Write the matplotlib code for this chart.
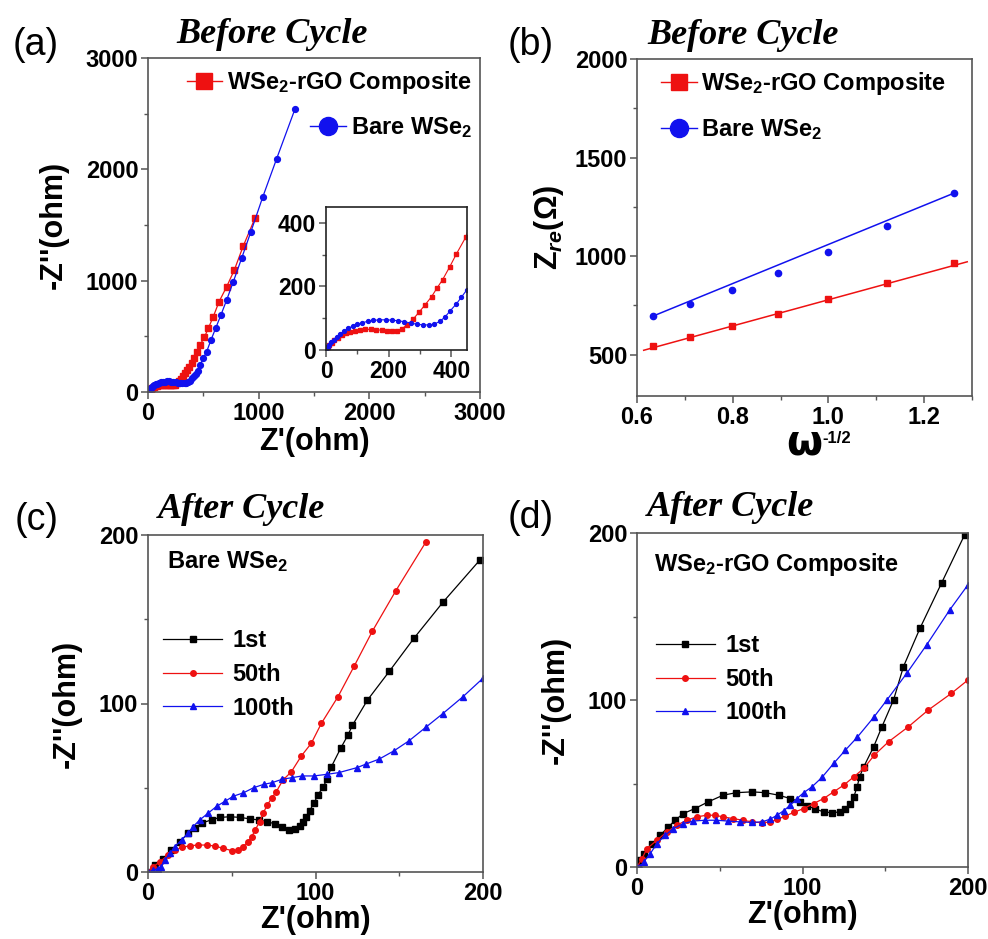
import numpy as np
import matplotlib
matplotlib.use('Agg')
import matplotlib.pyplot as plt
from matplotlib.lines import Line2D
from matplotlib.ticker import MultipleLocator

plt.rcParams['font.family'] = ['Liberation Sans', 'DejaVu Sans']
plt.rcParams['font.weight'] = 'bold'
plt.rcParams['axes.labelweight'] = 'bold'
plt.rcParams['mathtext.fontset'] = 'custom'
plt.rcParams['mathtext.rm'] = 'Liberation Sans:bold'
plt.rcParams['mathtext.it'] = 'Liberation Sans:italic:bold'
plt.rcParams['mathtext.bf'] = 'Liberation Sans:bold'

RED = '#ee1111'
BLUE = '#1111ee'
SPINE = '#555555'

# (a) Nyquist plots before cycling
comp_zre = [0, 5, 10, 18, 27, 38, 50, 63, 77, 92, 108, 125, 143, 160, 178, 195, 212, 228,
            241, 259, 278, 297, 317, 337, 355, 372, 395, 416, 446, 470, 509, 545, 590,
            642, 711, 780, 861, 967]
comp_zim = [0, 8, 15, 23, 31, 39, 46, 52, 57, 61, 63, 65, 65, 64, 62, 60, 59, 60,
            66, 79, 97, 119, 143, 168, 196, 221, 262, 302, 355, 422, 491, 572, 677,
            811, 946, 1096, 1312, 1562]
bare_zre = [0, 5, 10, 17, 25, 35, 46, 58, 71, 85, 100, 116, 133, 151, 170, 190, 210, 230,
            250, 270, 290, 310, 330, 345, 363, 379, 397, 416, 432, 450, 470, 500, 530,
            569, 611, 659, 711, 771, 846, 930, 1036, 1163, 1329]
bare_zim = [0, 8, 15, 24, 33, 42, 51, 60, 68, 75, 81, 86, 90, 93, 95, 95, 94, 92,
            89, 85, 81, 79, 79, 81, 90, 103, 124, 145, 166, 190, 243, 303, 362,
            467, 572, 692, 827, 991, 1201, 1440, 1749, 2097, 2544]

# (b) Warburg plots: measured points and the drawn fit lines
omega_inv_sqrt = [0.633, 0.711, 0.798, 0.895, 1.000, 1.123, 1.262]
comp_zre_w = [544, 590, 644, 708, 780, 864, 964]
bare_zre_w = [695, 759, 827, 915, 1022, 1153, 1319]
comp_fit_x = [0.614, 1.29]
comp_fit_y = [522, 971]
bare_fit_x = [0.633, 1.262]
bare_fit_y = [695, 1319]

# (c) bare WSe2 after cycling
c1_x = [0, 4, 9, 14, 19, 24, 28, 32, 38, 43, 49, 55, 61, 66, 71, 76, 80, 84, 88, 90.5,
        92.5, 94.5, 96.5, 99, 101.5, 104.5, 107, 109.5, 115, 119.4, 122, 131, 144, 159, 176, 198]
c1_y = [0, 4, 8, 13, 18, 23, 26, 29, 31, 32.4, 32.8, 32.4, 31.5, 30.9, 29.9, 28.5, 26.5, 25,
        25.3, 27.3, 29.9, 32.8, 36.4, 40.8, 45.7, 50.6, 55, 62.5, 73.4, 81.3, 87, 102, 119, 139, 160, 185]
c50_x = [0, 3, 7, 12, 16, 20, 25, 30, 35, 40, 45, 50, 54, 56.7, 59.7, 62, 64, 66.7, 68.7,
         71.2, 74, 76.6, 80.6, 85.6, 91.5, 97.5, 103.5, 113.4, 123, 134, 148, 166]
c50_y = [0, 3, 6, 10, 13, 14.6, 15.6, 16, 16, 15.4, 14, 12.7, 13, 15, 18, 21, 25, 29.9, 34.8,
         39.8, 44, 47.7, 54.6, 59.5, 68.8, 76.4, 88.2, 104, 122, 143, 167, 196]
c100_x = [0, 3, 6, 8, 10, 13, 16, 20, 24, 27, 31, 36, 41, 46, 51, 57, 63, 69, 74, 80, 86,
          92, 99, 107, 114, 125, 130, 138, 147, 156, 166, 176, 188, 200]
c100_y = [0, 1, 2, 3, 7, 11, 15, 19, 23, 27, 31, 35, 39, 42, 45, 47, 50, 52, 53, 55, 56,
          57, 57, 58, 59, 62, 64, 67, 72, 78, 86, 94, 104, 115]

# (d) WSe2-rGO composite after cycling
d1_x = [0, 2, 4, 9, 14, 19, 23, 28, 35, 43, 52, 60, 69.5, 77.5, 85.6, 92.6, 98.7, 102.7, 107.8,
        112.8, 117.8, 122.9, 125.9, 128.9, 131, 133, 134.5, 137, 143, 148, 155, 161, 171, 184, 198]
d1_y = [0, 4, 8, 14, 19, 24, 28, 32, 35, 39, 43, 44.5, 45, 44.5, 43, 41, 39, 36.7, 34.7,
        33, 32.5, 33, 35, 38, 42, 48, 54, 60, 72, 84, 100, 120, 143, 170, 199]
d50_x = [0, 3, 6, 12, 18, 24, 30, 36, 42, 47, 52, 58, 64, 69.5, 75.5, 80.6, 84.6, 89.6,
         94.7, 100.7, 106.7, 112.8, 118.8, 124.9, 131, 137, 143.4, 152, 164, 176, 190, 200]
d50_y = [0, 5, 11, 16, 21, 25, 28, 30, 31, 31, 30, 29, 28, 27, 26.5, 27, 28.5, 30.5,
         32.7, 35, 38, 41, 45, 49, 54, 59, 67, 75, 84, 94, 104, 112]
d100_x = [0, 2, 4, 8, 12, 17, 22, 28, 34, 41, 48, 55, 62.4, 69.5, 75.5, 80.6, 84.6, 88.6,
          92.6, 96.7, 100.7, 105.7, 111.8, 118.8, 125.9, 133, 143, 151, 163, 175, 189, 200]
d100_y = [0, 0, 3, 8, 14, 19, 23, 26, 27.5, 28, 28, 27.5, 27, 26.7, 27, 28.7, 31, 33.7,
          37, 41, 44.5, 48, 53.7, 62, 70, 77.6, 89.6, 100, 116, 133, 154, 169]

cycle_labels = ['1st', '50th', '100th']

W, H = 988, 939
fig = plt.figure(figsize=(W / 100, H / 100), dpi=100)


def px_axes(x0, y0, x1, y1):
    """Add axes from pixel box (left, top, right, bottom)."""
    return fig.add_axes([x0 / W, 1 - y1 / H, (x1 - x0) / W, (y1 - y0) / H])


def style(ax, major_x, major_y, tick_size=16):
    for s in ax.spines.values():
        s.set_color(SPINE)
        s.set_linewidth(1.2)
    ax.xaxis.set_major_locator(MultipleLocator(major_x))
    ax.yaxis.set_major_locator(MultipleLocator(major_y))
    ax.xaxis.set_minor_locator(MultipleLocator(major_x / 2))
    ax.yaxis.set_minor_locator(MultipleLocator(major_y / 2))
    ax.tick_params(which='both', direction='out', color=SPINE, labelsize=tick_size, pad=2)
    ax.tick_params(which='major', length=5, width=1.1)
    ax.tick_params(which='minor', length=3, width=1.0)
    for lab in ax.get_xticklabels() + ax.get_yticklabels():
        lab.set_fontweight('bold')


def panel_title(ax, text, xfrac, yfrac, label, lx, ly):
    ax.text(xfrac, yfrac, text, transform=ax.transAxes, ha='left', va='baseline',
            family='Liberation Serif', style='italic', weight='bold', fontsize=26)
    fig.text(lx / W, 1 - ly / H, label, ha='center', va='center',
             weight='normal', fontsize=27)


# ---------- (a) ----------
axa = px_axes(148, 58, 480, 392)
axa.plot(comp_zre, comp_zim, '-s', color=RED, lw=0.9, ms=4.2)
axa.plot(bare_zre, bare_zim, '-o', color=BLUE, lw=0.9, ms=4.2)
axa.set_xlim(0, 3000)
axa.set_ylim(0, 3000)
style(axa, 1000, 1000, 17)
axa.set_xlabel("Z'(ohm)", fontsize=22, labelpad=2)
axa.set_ylabel("-Z''(ohm)", fontsize=22, labelpad=12)
panel_title(axa, 'Before Cycle', 0.085, 1.045, '(a)', 36, 45)

h_comp = Line2D([], [], color=RED, lw=1, marker='s', ms=11)
h_bare = Line2D([], [], color=BLUE, lw=1, marker='o', ms=13)
leg_kw = dict(frameon=False, fontsize=17, borderpad=0, borderaxespad=0,
              handlelength=1.5, handletextpad=0.2)
leg1 = axa.legend([h_comp], ['WSe$_2$-rGO Composite'], loc='upper right',
                  bbox_to_anchor=(0.975, 0.967), **leg_kw)
axa.add_artist(leg1)
axa.legend([h_bare], ['Bare WSe$_2$'], loc='upper right',
           bbox_to_anchor=(0.975, 0.83), **leg_kw)

# inset with the high-frequency region
axi = px_axes(326, 207, 467, 350)
axi.plot(comp_zre, comp_zim, '-s', color=RED, lw=0.8, ms=2.8)
axi.plot(bare_zre, bare_zim, '-o', color=BLUE, lw=0.8, ms=2.8)
axi.set_xlim(0, 450)
axi.set_ylim(0, 450)
style(axi, 200, 200, 16.5)
for s in axi.spines.values():
    s.set_color('#222222')

# ---------- (b) ----------
axb = px_axes(637, 59, 972, 396)
axb.plot(comp_fit_x, comp_fit_y, '-', color=RED, lw=1.1)
axb.plot(bare_fit_x, bare_fit_y, '-', color=BLUE, lw=1.1)
axb.plot(omega_inv_sqrt, comp_zre_w, 's', color=RED, ms=4.5)
axb.plot(omega_inv_sqrt, bare_zre_w, 'o', color=BLUE, ms=4.5)
axb.set_xlim(0.6, 1.3)
axb.set_ylim(290, 2000)
style(axb, 0.2, 500, 17)
axb.xaxis.set_minor_locator(MultipleLocator(0.1))
axb.yaxis.set_minor_locator(MultipleLocator(250))
axb.set_ylabel(r'$\mathbf{Z}_{\mathit{re}}$(Ω)', fontsize=22, labelpad=6)
axb.set_xlabel('ω', fontsize=30, labelpad=-5, family='DejaVu Sans', weight='bold')
axb.annotate('-1/2', xy=(1.0, 0.6), xycoords=axb.xaxis.label, ha='left', va='center',
             fontsize=12)
panel_title(axb, 'Before Cycle', 0.03, 1.045, '(b)', 531, 45)
axb.legend([h_comp, h_bare], ['WSe$_2$-rGO Composite', 'Bare WSe$_2$'], loc='upper left',
           bbox_to_anchor=(0.072, 0.967), frameon=False, fontsize=17, borderpad=0,
           borderaxespad=0, handlelength=1.5, handletextpad=0.2, labelspacing=0.85)

# ---------- (c) and (d) ----------
cycle_style = [('-s', 'black', 3.8), ('-o', RED, 4.0), ('-^', BLUE, 4.4)]


def cycle_panel(box, series, name, name_xy, label, lxy, leg_anchor):
    ax = px_axes(*box)
    handles = []
    for (xs, ys), (fmt, col, ms) in zip(series, cycle_style):
        handles += ax.plot(xs, ys, fmt, color=col, lw=0.9, ms=ms)
    ax.set_xlim(0, 200)
    ax.set_ylim(0, 200)
    style(ax, 100, 100, 17)
    ax.set_xlabel("Z'(ohm)", fontsize=22, labelpad=0)
    ax.set_ylabel("-Z''(ohm)", fontsize=22, labelpad=12)
    panel_title(ax, 'After Cycle', 0.03, 1.05, label, *lxy)
    ax.text(name_xy[0], name_xy[1], name, transform=ax.transAxes, ha='left',
            va='center', fontsize=17)
    ax.legend(handles, cycle_labels, loc='upper left', bbox_to_anchor=leg_anchor,
              frameon=False, fontsize=17, borderpad=0, borderaxespad=0,
              handlelength=2.5, handletextpad=0.45, labelspacing=0.45)
    return ax


cycle_panel((148, 535, 483, 872), [(c1_x, c1_y), (c50_x, c50_y), (c100_x, c100_y)],
            'Bare WSe$_2$', (0.057, 0.92), '(c)', (37, 520), (0.045, 0.72))
cycle_panel((637, 533, 968, 867), [(d1_x, d1_y), (d50_x, d50_y), (d100_x, d100_y)],
            'WSe$_2$-rGO Composite', (0.051, 0.905), '(d)', (531, 518), (0.057, 0.697))

fig.savefig('out.png', dpi=100)
